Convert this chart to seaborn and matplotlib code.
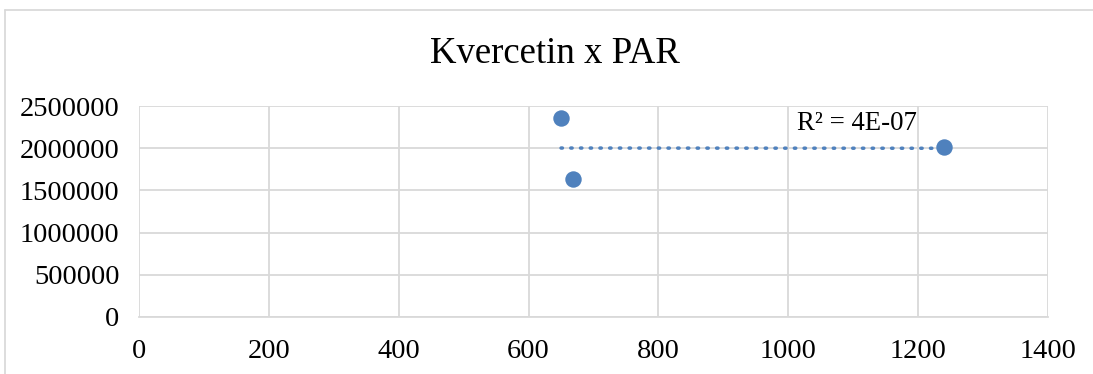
import matplotlib
matplotlib.use("Agg")
import matplotlib.pyplot as plt
from matplotlib.lines import Line2D
import seaborn as sns
import pandas as pd

# Data
par = [650, 669, 1240]
kvercetin = [2361000, 1631000, 2011000]
x_ticks = [0, 200, 400, 600, 800, 1000, 1200, 1400]
y_ticks = [0, 500000, 1000000, 1500000, 2000000, 2500000]
title = "Kvercetin x PAR"
r2_label = "R² = 4E-07"

df = pd.DataFrame({"PAR": par, "Kvercetin": kvercetin})

sns.set_theme(style="whitegrid")
plt.rcParams["font.family"] = ["Liberation Serif", "DejaVu Serif"]

fig = plt.figure(figsize=(10.93, 3.74), dpi=100, frameon=False)
fig.patch.set_facecolor("white")
ax = fig.add_axes([139/1093, 57/374, (1048-139)/1093, (317-106)/374])

color = "#4f81bd"
grid_c = "#d9d9d9"

sns.regplot(data=df, x="PAR", y="Kvercetin", ax=ax, scatter=False, ci=None,
            truncate=True,
            line_kws=dict(color=color, lw=2.5, linestyle=(0, (0.4, 2.4)),
                          dash_capstyle="round", zorder=2))
sns.scatterplot(data=df, x="PAR", y="Kvercetin", ax=ax, color=color, s=140,
                edgecolor=color, linewidth=0, zorder=3)

ax.set_xlim(0, 1400)
ax.set_ylim(0, 2500000)
ax.set_xticks(x_ticks)
ax.set_yticks(y_ticks)
ax.set_xticklabels([str(v) for v in x_ticks])
ax.set_yticklabels([str(v) for v in y_ticks])
ax.set_xlabel("")
ax.set_ylabel("")
ax.grid(True, color=grid_c, lw=1.3)
ax.set_axisbelow(True)
for side in ["top", "right", "left"]:
    ax.spines[side].set_visible(False)
ax.spines["bottom"].set_visible(True)
ax.spines["bottom"].set_color(grid_c)
ax.spines["bottom"].set_linewidth(1.3)
ax.tick_params(axis="both", length=0, labelsize=20.5, colors="black")
ax.tick_params(axis="y", pad=14)
ax.tick_params(axis="x", pad=16)

ax.text(1013, 2298000, r2_label, fontsize=19.3, ha="left", va="center", color="black")

fig.text(555/1093, 1 - 54/374, title, fontsize=26.5, ha="center", va="center", color="black")

# chart-area border (left and top edges visible in the crop)
fig.add_artist(Line2D([4.5/1093, 4.5/1093], [0, 1 - 10/374], transform=fig.transFigure,
                      color=grid_c, lw=1.3))
fig.add_artist(Line2D([4.5/1093, 1.02], [1 - 10/374, 1 - 10/374], transform=fig.transFigure,
                      color=grid_c, lw=1.3))

fig.savefig("out.png", dpi=100, facecolor="white")
